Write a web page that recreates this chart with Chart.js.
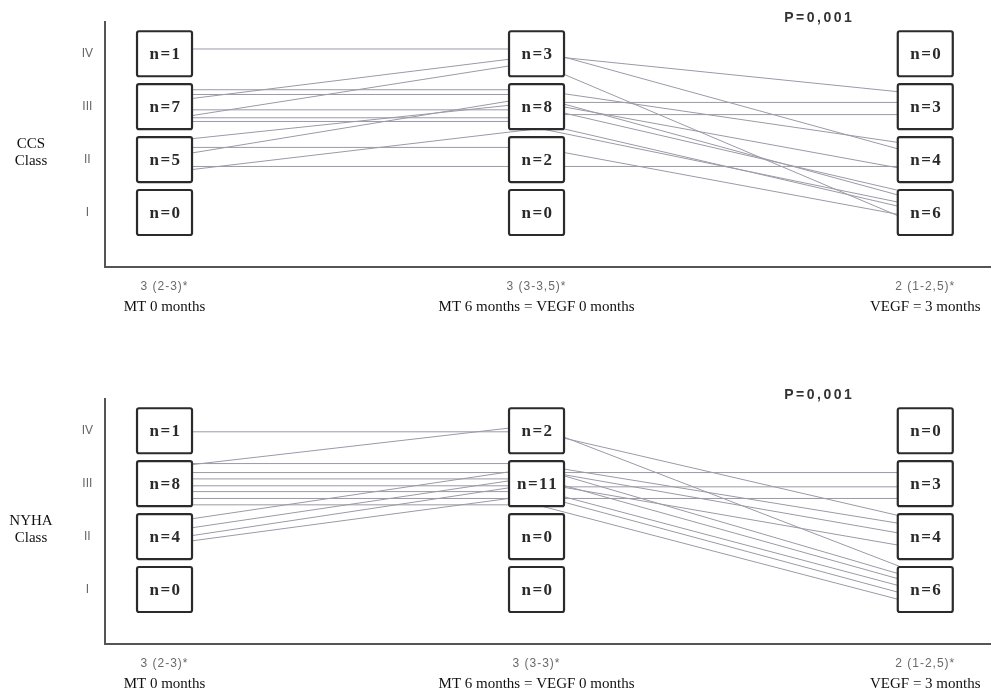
<!DOCTYPE html>
<html>
<head>
<meta charset="utf-8">
<script src="https://cdn.jsdelivr.net/npm/chart.js@4.4.1/dist/chart.umd.min.js"></script>
<style>
  html, body { margin: 0; padding: 0; background: #fff; }
  body { width: 992px; height: 693px; position: relative; overflow: hidden; }
  .panel { position: absolute; left: 0; width: 992px; }
  #ccsPanel { top: 0; height: 340px; }
  #nyhaPanel { top: 350px; height: 343px; }
</style>
</head>
<body>
<div class="panel" id="ccsPanel"><canvas id="ccsChart"></canvas></div>
<div class="panel" id="nyhaPanel"><canvas id="nyhaChart"></canvas></div>
<script>
// Class rows on the y axis, I..IV = 1..4
const classLabels = ['I', 'II', 'III', 'IV'];
// x value of the three time points
const timePoints = [0, 1, 2.045];
const timeLabels = ['MT 0 months', 'MT 6 months = VEGF 0 months', 'VEGF = 3 months'];
const pValue = 'P=0,001';

// --- CCS panel ---
const ccsMedians = ['3 (2-3)*', '3 (3-3,5)*', '2 (1-2,5)*'];
// patients per box, one row per time point, classes I..IV
const ccsCounts = [
    [0, 5, 7, 1],
    [0, 2, 8, 3],
    [6, 4, 3, 0]
];
// one patient per entry: [leaves MT0, enters MT6, leaves MT6, enters VEGF3] in class units
const ccsPaths = [
    [4.09, 4.09, 3.98, 3.23],
    [3.09, 3.96, 4.08, 2.06],
    [2.75, 3.85, 3.83, 0.72],
    [3.32, 3.32, 3.08, 3.08],
    [2.94, 2.94, 2.85, 2.85],
    [3.23, 3.23, 3.32, 2.25],
    [2.79, 2.79, 3.19, 1.19],
    [2.72, 2.72, 3.00, 1.30],
    [2.34, 3.08, 3.09, 1.75],
    [2.04, 3.19, 2.70, 1.00],
    [1.75, 2.58, 2.60, 1.09],
    [1.87, 1.87, 1.87, 1.87],
    [2.23, 2.23, 2.23, 0.87]
];

// --- NYHA panel ---
const nyhaMedians = ['3 (2-3)*', '3 (3-3)*', '2 (1-2,5)*'];
const nyhaCounts = [
    [0, 4, 8, 1],
    [0, 0, 11, 2],
    [6, 4, 3, 0]
];
const nyhaPaths = [
    [3.98, 3.98, 3.98, 2.28],
    [3.30, 4.11, 4.08, 1.25],
    [3.38, 3.38, 3.36, 2.17],
    [3.21, 3.21, 3.21, 3.21],
    [3.09, 3.09, 3.11, 1.06],
    [2.96, 2.96, 2.94, 2.94],
    [2.85, 2.85, 2.89, 0.94],
    [2.72, 2.72, 2.72, 2.72],
    [2.60, 2.60, 2.60, 0.68],
    [2.26, 3.30, 3.30, 1.15],
    [2.09, 3.13, 3.26, 1.98],
    [1.94, 3.00, 3.02, 1.75],
    [1.85, 2.79, 2.79, 0.81]
];

// box look
const BOX_W = 55;
const BOX_H = 45;
const LINE_COLOR = '#9a9aa8';
const AXIS_COLOR = '#555';

// draws the n= boxes over the patient lines, then the text around the axes
const panelPlugin = {
    id: 'panel',
    afterDatasetsDraw(chart, args, opts) {
        const { ctx, scales: { x, y } } = chart;
        ctx.save();
        opts.counts.forEach((col, c) => {
            const cx = x.getPixelForValue(timePoints[c]);
            col.forEach((n, r) => {
                const cy = y.getPixelForValue(r + 1);
                ctx.beginPath();
                ctx.roundRect(cx - BOX_W / 2, cy - BOX_H / 2, BOX_W, BOX_H, 2);
                ctx.fillStyle = '#fff';
                ctx.fill();
                ctx.lineWidth = 2.2;
                ctx.strokeStyle = '#2b2b2b';
                ctx.stroke();
                ctx.fillStyle = '#2a2a2a';
                ctx.font = 'bold 17px "Liberation Serif"';
                ctx.textAlign = 'center';
                ctx.textBaseline = 'middle';
                ctx.letterSpacing = '1.5px';
                ctx.fillText('n=' + n, cx + 1, cy + 1);
            });
        });
        ctx.restore();
    },
    afterDraw(chart, args, opts) {
        const { ctx, chartArea, scales: { x, y } } = chart;
        ctx.save();
        ctx.textAlign = 'center';
        ctx.textBaseline = 'middle';

        // medians and time point names under the x axis
        timePoints.forEach((t, i) => {
            const px = x.getPixelForValue(t);
            ctx.letterSpacing = '1px';
            ctx.fillStyle = '#6a6a6a';
            ctx.font = '12px "Liberation Sans"';
            ctx.fillText(opts.medians[i], px, chartArea.bottom + 20);
            ctx.letterSpacing = '0px';
            ctx.fillStyle = '#111';
            ctx.font = '15px "Liberation Serif"';
            ctx.fillText(timeLabels[i], px, chartArea.bottom + 40);
        });

        // side title
        const ty = y.getPixelForValue(2.3);
        ctx.fillStyle = '#111';
        ctx.font = '15px "Liberation Serif"';
        opts.title.forEach((line, i) => ctx.fillText(line, 31, ty + i * 17));

        // p value
        ctx.letterSpacing = '2.5px';
        ctx.font = 'bold 14px "Liberation Sans"';
        ctx.fillStyle = '#333';
        ctx.fillText(pValue, x.getPixelForValue(1.76), chartArea.top - 4);
        ctx.restore();
    }
};

function makePanel(canvasId, paths, counts, medians, title, padTop, axisHeight) {
    const ctx = document.getElementById(canvasId).getContext('2d');
    const datasets = paths.map(p => ({
        data: [
            { x: timePoints[0], y: p[0] },
            { x: timePoints[1], y: p[1] },
            { x: timePoints[1], y: p[2] },
            { x: timePoints[2], y: p[3] }
        ],
        showLine: true,
        borderColor: LINE_COLOR,
        borderWidth: 1,
        pointRadius: 0,
        tension: 0
    }));

    new Chart(ctx, {
        type: 'scatter',
        data: { datasets },
        plugins: [panelPlugin],
        options: {
            responsive: true,
            maintainAspectRatio: false,
            animation: false,
            layout: { padding: { top: padTop, left: 0, right: 2, bottom: 0 } },
            scales: {
                x: {
                    type: 'linear',
                    min: -0.16,
                    max: 2.219,
                    grid: { display: false },
                    border: { display: true, color: AXIS_COLOR, width: 2 },
                    ticks: { display: false },
                    afterFit: scale => { scale.height = axisHeight; }
                },
                y: {
                    type: 'linear',
                    min: -0.03,
                    max: 4.6,
                    grid: { display: false, drawTicks: false },
                    border: { display: true, color: AXIS_COLOR, width: 2 },
                    afterBuildTicks: scale => {
                        scale.ticks = classLabels.map((_, i) => ({ value: i + 1 }));
                    },
                    ticks: {
                        padding: 12,
                        crossAlign: 'center',
                        color: '#666',
                        font: { family: '"Liberation Sans"', size: 12 },
                        callback: v => classLabels[Math.round(v) - 1] || ''
                    },
                    afterFit: scale => { scale.width = 105; }
                }
            },
            plugins: {
                legend: { display: false },
                tooltip: { enabled: false },
                panel: { counts, medians, title }
            }
        }
    });
}

makePanel('ccsChart', ccsPaths, ccsCounts, ccsMedians, ['CCS', 'Class'], 22, 73);
makePanel('nyhaChart', nyhaPaths, nyhaCounts, nyhaMedians, ['NYHA', 'Class'], 49, 49);
</script>
</body>
</html>
